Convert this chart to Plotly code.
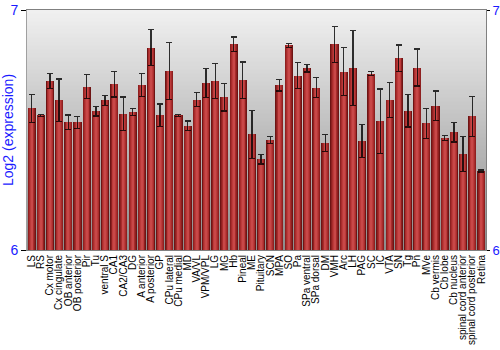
import plotly.graph_objects as go

categories = ["LS", "RS", "Cx motor", "Cx cingulate", "OB anterior", "OB posterior", "Pir", "Tu",
              "ventral S", "CA1", "CA2/CA3", "DG", "A anterior", "A posterior", "GP", "CPu lateral",
              "CPu medial", "MD", "VA/VL", "VPM/VPL", "LG", "MG", "Hb", "Pineal", "ME", "Pituitary",
              "SCN", "MPA", "SO", "Pa", "SPa ventral", "SPa dorsal", "DM", "VMH", "Arc", "LH", "PAG",
              "SC", "IC", "VTA", "SN", "Tg", "Pn", "MVe", "Cb vermis", "Cb lobe", "Cb nucleus",
              "spinal cord anterior", "spinal cord posterior", "Retina"]

values = [6.590, 6.561, 6.703, 6.624, 6.533, 6.532, 6.681, 6.578, 6.624, 6.691,
          6.568, 6.575, 6.687, 6.843, 6.562, 6.746, 6.561, 6.517, 6.627, 6.695,
          6.703, 6.637, 6.857, 6.707, 6.482, 6.378, 6.458, 6.687, 6.853, 6.727,
          6.758, 6.677, 6.446, 6.857, 6.743, 6.758, 6.454, 6.735, 6.536, 6.624,
          6.799, 6.580, 6.760, 6.528, 6.601, 6.467, 6.490, 6.400, 6.557, 6.329]

errors = [0.058, 0.004, 0.031, 0.088, 0.030, 0.025, 0.050, 0.020, 0.021, 0.053,
          0.070, 0.014, 0.047, 0.075, 0.046, 0.120, 0.004, 0.020, 0.030, 0.060,
          0.073, 0.058, 0.031, 0.076, 0.100, 0.020, 0.015, 0.024, 0.008, 0.054,
          0.016, 0.042, 0.035, 0.075, 0.100, 0.157, 0.068, 0.008, 0.135, 0.073,
          0.055, 0.067, 0.077, 0.063, 0.061, 0.010, 0.040, 0.073, 0.084, 0.004]

y_range = [6, 7]
y_ticks = [6, 7]

fig = go.Figure()

# layered bars to imitate cylindrical shading
layers = [(0.88, "#6e1414"), (0.74, "#8e2020"), (0.58, "#a82c2c"), (0.40, "#bc3a3a"), (0.22, "#c84848")]
for i, (w, c) in enumerate(layers):
    last = i == len(layers) - 1
    fig.add_trace(go.Bar(
        x=categories, y=values, width=w, marker=dict(color=c, line=dict(width=0)),
        hoverinfo="skip" if not last else None, showlegend=False,
        error_y=dict(type="data", array=errors, visible=True, color="rgba(0,0,0,0.8)",
                     thickness=1.3, width=3) if last else None,
    ))

# invisible trace for the right axis
fig.add_trace(go.Scatter(x=[categories[0]], y=[6.5], yaxis="y2", mode="markers",
                         marker=dict(opacity=0), showlegend=False, hoverinfo="skip"))

# background gradient
n = 60
shapes = []
for k in range(n):
    t = (k + 0.5) / n
    g = int(round(241 - (241 - 140) * t))
    shapes.append(dict(type="rect", xref="x domain", yref="y domain",
                       x0=0, x1=1, y0=1 - (k + 1) / n, y1=1 - k / n + 0.002,
                       fillcolor=f"rgb({g},{g},{g})", line=dict(width=0), layer="below"))

fig.update_layout(
    width=500, height=350,
    margin=dict(l=27, r=14, t=10, b=100),
    paper_bgcolor="white", plot_bgcolor="#c0c0c0",
    barmode="overlay", bargap=0,
    shapes=shapes,
    font=dict(family="Liberation Sans, Arial, sans-serif"),
    xaxis=dict(tickangle=-90, tickfont=dict(size=10, color="black"), showline=True,
               linecolor="#808080", mirror=True, ticks="", showgrid=False,
               tickmode="linear", dtick=1, automargin=False,
               range=[-0.5, len(categories) - 0.5]),
    yaxis=dict(range=y_range, tickvals=y_ticks, ticktext=[str(v) for v in y_ticks],
               tickfont=dict(size=14, color="#1a1aff"), ticks="outside", ticklen=5,
               tickcolor="black", showgrid=False, showline=True, linecolor="#a0a0a0",
               zeroline=False, automargin=False,
               title=dict(text="Log2 (expression)", font=dict(size=14, color="#1a1aff"), standoff=2)),
    yaxis2=dict(range=y_range, tickvals=y_ticks, ticktext=[str(v) for v in y_ticks],
                overlaying="y", side="right", tickfont=dict(size=13, color="#1a1aff"),
                ticks="outside", ticklen=3, tickcolor="black", showgrid=False,
                showline=True, linecolor="#808080", zeroline=False, automargin=False,
                ticklabelstandoff=0),
)

fig.write_html("out.html")
